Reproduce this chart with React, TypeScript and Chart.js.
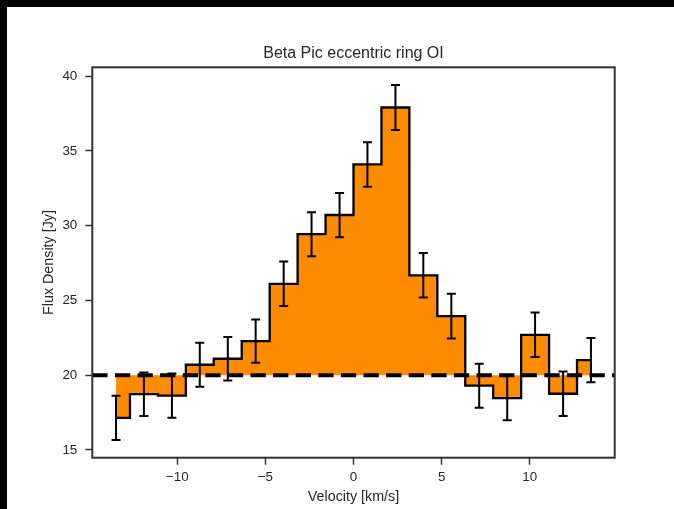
import React, { useEffect, useRef } from "react";
import { Chart, registerables } from "chart.js";

Chart.register(...registerables);

// Binned OI line profile of the Beta Pic eccentric ring
const velocity = [-13.47, -11.89, -10.3, -8.72, -7.13, -5.55, -3.96, -2.38, -0.79, 0.79, 2.38, 3.96, 5.55, 7.13, 8.72, 10.3, 11.89, 13.47];
const flux = [17.15, 18.73, 18.64, 20.7, 21.1, 22.28, 26.11, 29.43, 30.71, 34.09, 37.9, 26.68, 23.95, 19.3, 18.47, 22.7, 18.76, 21.01];
const fluxErr = [1.48, 1.45, 1.48, 1.47, 1.46, 1.45, 1.49, 1.47, 1.48, 1.49, 1.5, 1.49, 1.49, 1.47, 1.49, 1.49, 1.48, 1.48];
const continuum = 20;
const xTicks = [-10, -5, 0, 5, 10];
const yTicks = [15, 20, 25, 30, 35, 40];

const FONT = "'Liberation Sans', Arial, Helvetica, sans-serif";
const INK = "#262626";
const SPINE = "#333333";

// axis limits: data extent plus a 5% margin on each side
function padded(lo: number, hi: number) {
  const m = (hi - lo) * 0.05;
  return [lo - m, hi + m];
}
const [xMin, xMax] = padded(Math.min(...velocity), Math.max(...velocity));
const [yMin, yMax] = padded(
  Math.min(...flux.map((f, i) => f - fluxErr[i])),
  Math.max(...flux.map((f, i) => f + fluxErr[i]))
);

const fmt = (v: number) => String(v).replace("-", "\u2212");

const errorBars = {
  id: "errorBars",
  afterDatasetsDraw(chart: any) {
    const { ctx, scales } = chart;
    const xs = scales.x;
    const ys = scales.y;
    ctx.save();
    ctx.strokeStyle = "#000";
    ctx.lineWidth = 2;
    ctx.lineCap = "butt";
    velocity.forEach((v, i) => {
      const px = xs.getPixelForValue(v);
      const top = ys.getPixelForValue(flux[i] + fluxErr[i]);
      const bot = ys.getPixelForValue(flux[i] - fluxErr[i]);
      ctx.beginPath();
      ctx.moveTo(px, top);
      ctx.lineTo(px, bot);
      ctx.moveTo(px - 4.5, top);
      ctx.lineTo(px + 4.5, top);
      ctx.moveTo(px - 4.5, bot);
      ctx.lineTo(px + 4.5, bot);
      ctx.stroke();
    });
    // continuum level
    const cy = ys.getPixelForValue(continuum);
    ctx.lineWidth = 4;
    ctx.setLineDash([15.3, 7.3]);
    ctx.beginPath();
    ctx.moveTo(chart.chartArea.left, cy);
    ctx.lineTo(chart.chartArea.right, cy);
    ctx.stroke();
    ctx.restore();
  },
};

const frame = {
  id: "frame",
  afterDraw(chart: any) {
    const { ctx, chartArea: a } = chart;
    ctx.save();
    ctx.strokeStyle = SPINE;
    ctx.lineWidth = 2;
    ctx.strokeRect(a.left, a.top, a.right - a.left, a.bottom - a.top);
    ctx.restore();
  },
};

const whiteBg = {
  id: "whiteBg",
  beforeDraw(chart: any) {
    const { ctx, width, height } = chart;
    ctx.save();
    ctx.fillStyle = "#fff";
    ctx.fillRect(0, 0, width, height);
    ctx.restore();
  },
};

export default function App() {
  const ref = useRef<HTMLCanvasElement | null>(null);

  useEffect(() => {
    if (!ref.current) return;
    Chart.defaults.font.family = FONT;
    Chart.defaults.color = INK;
    const chart = new Chart(ref.current, {
      type: "line",
      data: {
        datasets: [
          {
            data: velocity.map((v, i) => ({ x: v, y: flux[i] })),
            stepped: "middle",
            fill: { value: continuum },
            backgroundColor: "#ff8c00",
            borderColor: "#000",
            borderWidth: 2.3,
            pointRadius: 0,
          },
        ],
      },
      options: {
        responsive: false,
        animation: false,
        layout: { padding: { left: 0, right: 59.3, top: 0, bottom: 0 } },
        plugins: {
          legend: { display: false },
          tooltip: { enabled: false },
          title: {
            display: true,
            text: "Beta Pic eccentric ring OI",
            fullSize: false,
            color: INK,
            font: { size: 16, weight: "normal", family: FONT },
            padding: { top: 44.4, bottom: 3.7 },
          },
        },
        scales: {
          x: {
            type: "linear",
            min: xMin,
            max: xMax,
            afterFit(s: any) {
              s.height = 51.3;
            },
            afterBuildTicks(s: any) {
              s.ticks = xTicks.map((v) => ({ value: v }));
            },
            border: { display: false },
            grid: {
              drawOnChartArea: false,
              drawTicks: true,
              tickLength: 7,
              tickWidth: 1.5,
              tickColor: SPINE,
            },
            ticks: {
              padding: 5,
              color: INK,
              font: { size: 13.4 },
              maxRotation: 0,
              callback: (v: any) => fmt(Number(v)),
            },
            title: {
              display: true,
              text: "Velocity [km/s]",
              color: INK,
              font: { size: 14.3 },
              padding: { top: 0, bottom: 3 },
            },
          },
          y: {
            type: "linear",
            min: yMin,
            max: yMax,
            afterFit(s: any) {
              s.width = 92.3;
            },
            afterBuildTicks(s: any) {
              s.ticks = yTicks.map((v) => ({ value: v }));
            },
            border: { display: false },
            grid: {
              drawOnChartArea: false,
              drawTicks: true,
              tickLength: 7,
              tickWidth: 1.5,
              tickColor: SPINE,
            },
            ticks: {
              padding: 8,
              color: INK,
              font: { size: 13.4 },
              callback: (v: any) => fmt(Number(v)),
            },
            title: {
              display: true,
              text: "Flux Density [Jy]",
              color: INK,
              font: { size: 14.3 },
              padding: { top: 40.4, bottom: 0 },
            },
          },
        },
      },
      plugins: [whiteBg, errorBars, frame],
    });
    return () => chart.destroy();
  }, []);

  return (
    <div style={{ position: "fixed", left: 0, top: 0, width: 674, height: 509, background: "#fff" }}>
      <canvas ref={ref} width={674} height={509} style={{ display: "block" }} />
      <div style={{ position: "absolute", left: 0, top: 0, width: 674, height: 7, background: "#000" }} />
      <div style={{ position: "absolute", left: 0, top: 0, width: 7, height: 509, background: "#000" }} />
    </div>
  );
}
